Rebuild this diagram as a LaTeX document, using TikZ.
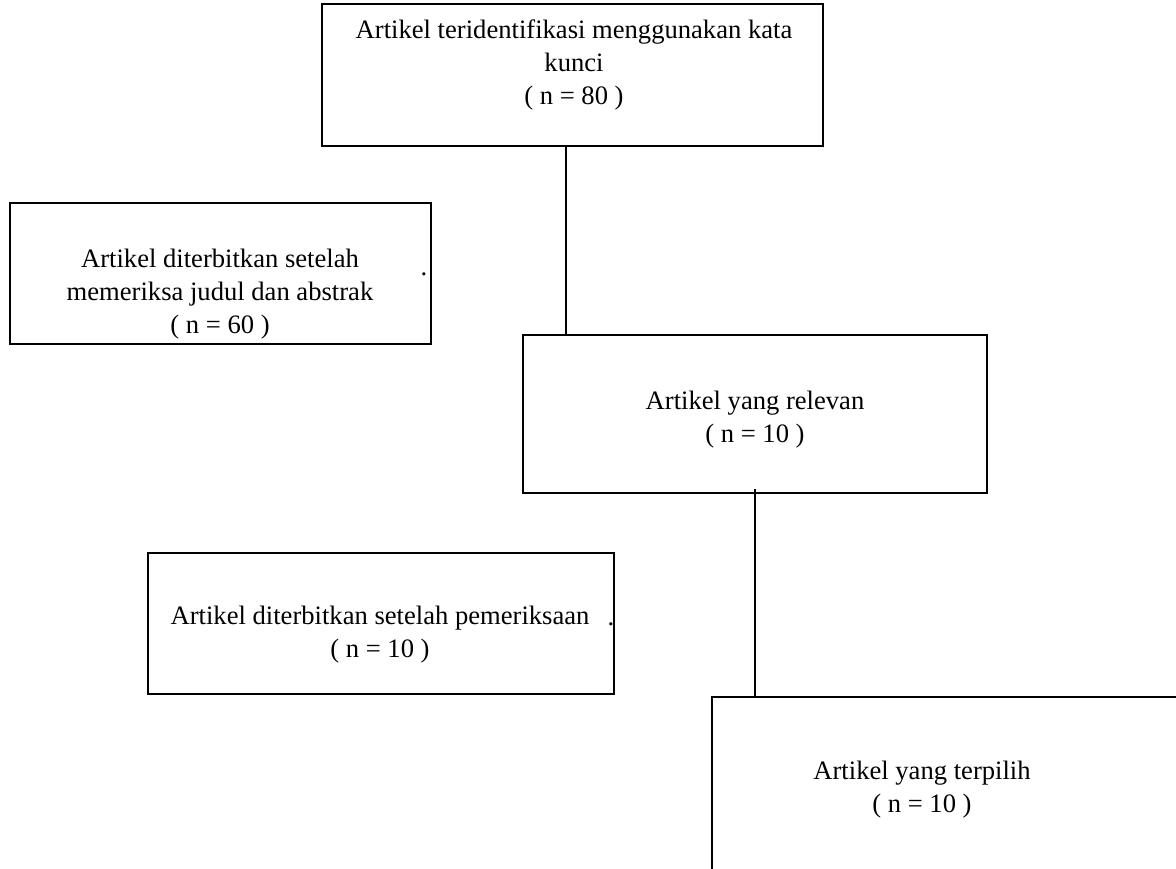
\documentclass[tikz,border=0pt]{standalone}
\usepackage{fontspec}
\setmainfont{Liberation Serif}
\tikzset{
  box/.style={draw, line width=1.1pt, rectangle, inner sep=0pt},
  txt/.style={align=center, inner sep=0pt, font=\fontsize{13.3}{16.5}\selectfont},
  dot/.style={anchor=base, inner sep=0pt, font=\fontsize{13.3}{16.5}\selectfont},
  link/.style={line width=0.7pt},
}
\begin{document}
\begin{tikzpicture}[x=0.5pt, y=-0.5pt]
  \clip (0,0) rectangle (1176,868);
  % level 0
  \node[box, minimum width=250.5pt, minimum height=71pt] (b1) at (572.5,75) {};
  \node[txt] (t1) at (574,65) {Artikel teridentifikasi menggunakan kata\\kunci\\( n = 80 )};
  % level 1
  \node[box, minimum width=210.5pt, minimum height=70.5pt] (b2) at (220.5,273.5) {};
  \node[txt] (t2) at (220,294) {Artikel diterbitkan setelah\\memeriksa judul dan abstrak\\( n = 60 )};
  \node[dot] (d2) at (424,275) {.};
  \node[box, minimum width=232pt, minimum height=79pt] (b3) at (755,414) {};
  \node[txt] (t3) at (755,420) {Artikel yang relevan\\( n = 10 )};
  % level 2
  \node[box, minimum width=233pt, minimum height=70.5pt] (b4) at (381,623.5) {};
  \node[txt] (t4) at (380,635) {Artikel diterbitkan setelah pemeriksaan\\( n = 10 )};
  \node[dot] (d4) at (611,625) {.};
  \node[box, anchor=north west, minimum width=264.5pt, minimum height=102pt] (b5) at (711,696) {};
  \node[txt] (t5) at (922,790) {Artikel yang terpilih\\( n = 10 )};

  \coordinate (c1) at (566,0);
  \draw[link] (b1.south -| c1) -- (b3.north -| c1);
  \draw[link] ([yshift=2.5pt]b3.south) -- (b3.south |- b5.north);
\end{tikzpicture}
\end{document}
